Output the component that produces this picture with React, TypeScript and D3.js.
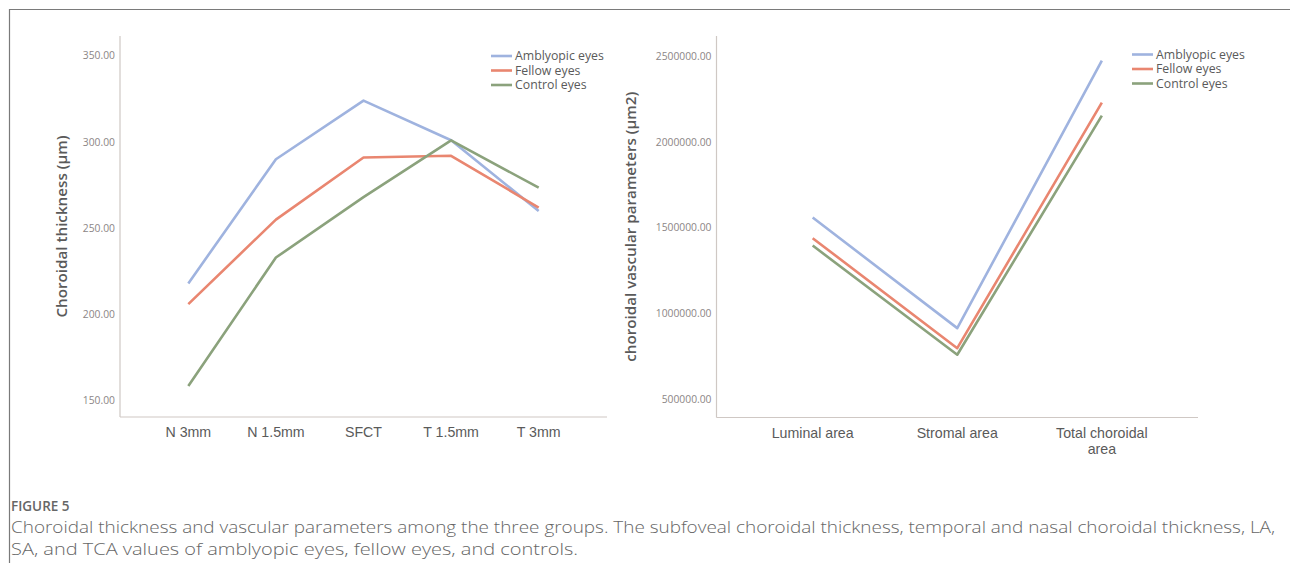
import React from "react";
import * as d3 from "d3";

const W = 1290;
const H = 563;

const groups = ["Amblyopic eyes", "Fellow eyes", "Control eyes"];
const groupColors = ["#9fb3df", "#e98670", "#8ba27c"];

const thicknessSites = ["N 3mm", "N 1.5mm", "SFCT", "T 1.5mm", "T 3mm"];
const thicknessAmblyopic = [218, 290, 324, 301, 260];
const thicknessFellow = [206, 255, 291, 292, 262];
const thicknessControl = [158.5, 233, 268, 301, 273.5];
const thicknessTicks = [150, 200, 250, 300, 350];

const vascularParams = ["Luminal area", "Stromal area", "Total choroidal area"];
const vascularAmblyopic = [1560000, 917000, 2473000];
const vascularFellow = [1440000, 800000, 2228000];
const vascularControl = [1397000, 762000, 2153000];
const vascularTicks = [500000, 1000000, 1500000, 2000000, 2500000];

const captionTitle = "FIGURE 5";
const captionLines = [
  "Choroidal thickness and vascular parameters among the three groups. The subfoveal choroidal thickness, temporal and nasal choroidal thickness, LA,",
  "SA, and TCA values of amblyopic eyes, fellow eyes, and controls.",
];
// rendered widths of the caption lines in the reference
const captionWidths = [1264, 567];

const TEXT = "#5a5a5a";
const TICK = "#8c8686";
const AXIS = "#cfc8c4";
const FONT = "'Open Sans', 'DejaVu Sans', sans-serif";
const LABEL_FONT = "'Liberation Sans', Arial, sans-serif";

type PanelProps = {
  left: number;
  right: number;
  top: number;
  bottom: number;
  cats: string[];
  series: number[][];
  domain: [number, number];
  ticks: number[];
  padding: number;
  yTitle: string;
  yTitleX: number;
  legendX: number;
  legendY: number;
  wrapAt?: number;
};

function Panel(p: PanelProps) {
  const x = d3.scalePoint<string>().domain(p.cats).range([p.left, p.right]).padding(p.padding);
  const y = d3.scaleLinear().domain(p.domain).range([p.bottom, p.top]);
  const line = d3
    .line<number>()
    .x((_, i) => x(p.cats[i]) as number)
    .y((d) => y(d));
  const midY = (p.top + p.bottom) / 2;

  return (
    <g>
      {/* axes */}
      <line x1={p.left} x2={p.left} y1={p.top} y2={p.bottom} stroke={AXIS} strokeWidth={1.2} />
      <line x1={p.left} x2={p.right} y1={p.bottom} y2={p.bottom} stroke={AXIS} strokeWidth={1.2} />
      {p.ticks.map((t) => (
        <text
          key={t}
          x={p.left - 5}
          y={y(t)}
          dy="0.35em"
          textAnchor="end"
          fontSize={10.3}
          fill={TICK}
          fontFamily={FONT}
        >
          {t.toFixed(2)}
        </text>
      ))}
      {p.cats.map((c) => {
        const words = c.split(" ");
        const lines =
          p.wrapAt && c.length > p.wrapAt
            ? [words.slice(0, -1).join(" "), words[words.length - 1]]
            : [c];
        return lines.map((l, i) => (
          <text
            key={c + i}
            x={x(c)}
            y={p.bottom + 20 + i * 16.5}
            textAnchor="middle"
            fontSize={14.2}
            fill={TEXT}
            fontFamily={LABEL_FONT}
          >
            {l}
          </text>
        ));
      })}
      <text
        transform={`translate(${p.yTitleX},${midY}) rotate(-90)`}
        textAnchor="middle"
        dy="0.35em"
        fontSize={15.2}
        fontWeight={600}
        fill={TEXT}
        fontFamily={FONT}
      >
        {p.yTitle}
      </text>
      {/* series */}
      {p.series.map((s, i) => (
        <path
          key={i}
          d={line(s) as string}
          fill="none"
          stroke={groupColors[i]}
          strokeWidth={2.6}
          strokeLinejoin="round"
        />
      ))}
      {/* legend */}
      {groups.map((g, i) => (
        <g key={g} transform={`translate(${p.legendX},${p.legendY + i * 14.5})`}>
          <line x1={0} x2={21} y1={0} y2={0} stroke={groupColors[i]} strokeWidth={2.6} />
          <text x={24} y={0} dy="0.35em" fontSize={12.3} fill={TEXT} fontFamily={FONT}>
            {g}
          </text>
        </g>
      ))}
    </g>
  );
}

export default function App() {
  return (
    <svg
      width={W}
      height={H}
      style={{ position: "absolute", left: 0, top: 0, background: "#fff" }}
    >
      <rect x={0} y={0} width={W} height={H} fill="#fff" />
      {/* frame */}
      <line x1={9} x2={W} y1={9.5} y2={9.5} stroke="#7a7a7a" strokeWidth={1.2} />
      <line x1={9.5} x2={9.5} y1={9} y2={H} stroke="#7a7a7a" strokeWidth={1.2} />

      <Panel
        left={120}
        right={607}
        top={36}
        bottom={417}
        cats={thicknessSites}
        series={[thicknessAmblyopic, thicknessFellow, thicknessControl]}
        domain={[140.5, 361.5]}
        ticks={thicknessTicks}
        padding={0.78}
        yTitle="Choroidal thickness (μm)"
        yTitleX={62}
        legendX={491}
        legendY={56}
      />
      <Panel
        left={716.5}
        right={1198}
        top={36}
        bottom={417.5}
        cats={vascularParams}
        series={[vascularAmblyopic, vascularFellow, vascularControl]}
        domain={[397000, 2616000]}
        ticks={vascularTicks}
        padding={0.665}
        yTitle="choroidal vascular parameters (μm2)"
        yTitleX={631}
        legendX={1132}
        legendY={54.5}
        wrapAt={14}
      />

      {/* caption */}
      <text x={11} y={511} fontSize={13.5} fontWeight={600} fill="#666" fontFamily={FONT}>
        {captionTitle}
      </text>
      {captionLines.map((l, i) => (
        <text
          key={i}
          x={11}
          y={533 + i * 22}
          fontSize={16}
          fontWeight={300}
          fill="#666"
          fontFamily={FONT}
          textLength={captionWidths[i]}
          lengthAdjust="spacingAndGlyphs"
        >
          {l}
        </text>
      ))}
    </svg>
  );
}
